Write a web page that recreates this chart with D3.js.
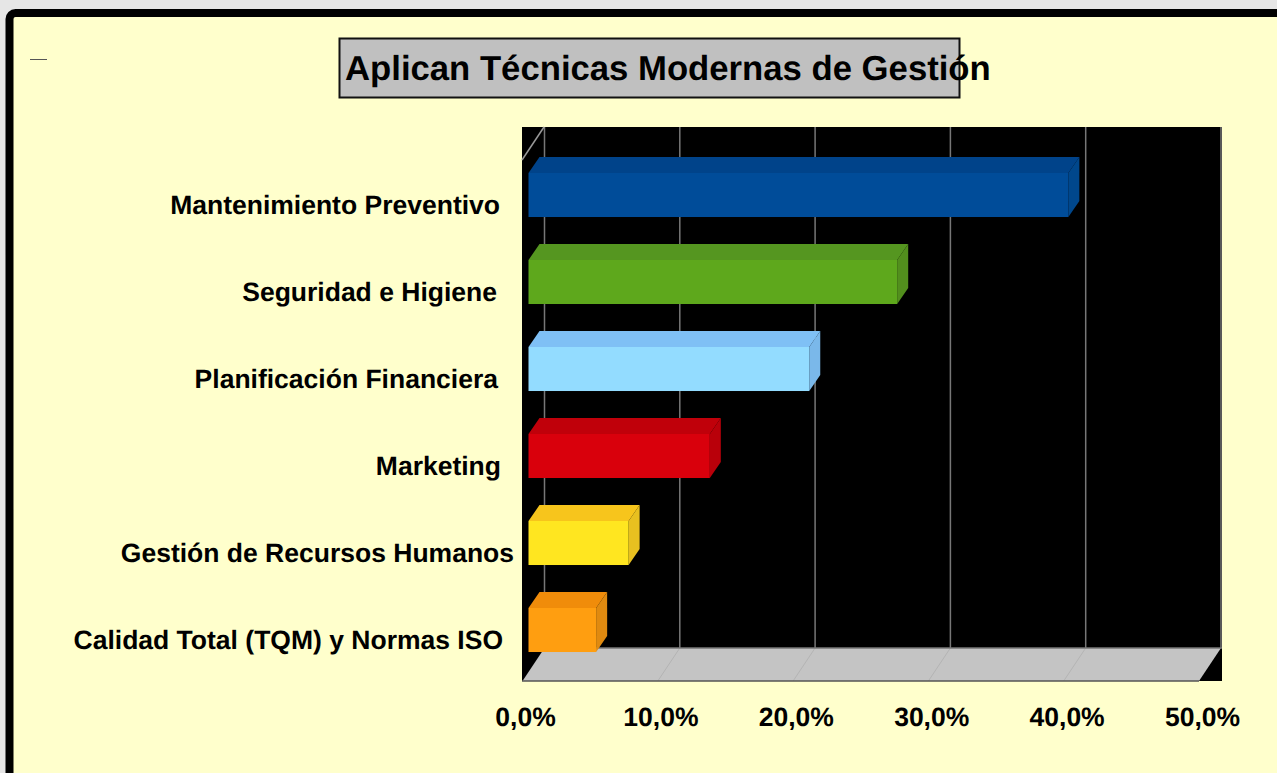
<!DOCTYPE html>
<html>
<head>
<meta charset="utf-8">
<script src="https://cdn.jsdelivr.net/npm/d3@7"></script>
<style>
html, body { margin: 0; padding: 0; background: #e6e6e6; overflow: hidden; }
text { font-family: "Liberation Sans", Arial, sans-serif; font-weight: bold; fill: #000; text-rendering: geometricPrecision; }
</style>
</head>
<body>
<svg id="chart"></svg>
<script>
const title = "Aplican Técnicas Modernas de Gestión";
const categories = ["Mantenimiento Preventivo", "Seguridad e Higiene", "Planificación Financiera", "Marketing", "Gestión de Recursos Humanos", "Calidad Total (TQM) y Normas ISO"];
const values = [39.9, 27.25, 20.75, 13.4, 7.4, 5.0];
const xTicks = [0, 10, 20, 30, 40, 50];
const frontColors = ["#004c99", "#5ea81c", "#93dcff", "#d9000c", "#ffe620", "#ff9e10"];
const topColors = ["#00438a", "#559620", "#7fc0f5", "#c0000a", "#f7c51c", "#f08c0a"];
const sideColors = ["#00478c", "#528f1d", "#7ab8ea", "#b9000a", "#e8c020", "#e08a10"];

const width = 1277, height = 773;
const plot = { left: 522, right: 1222, top: 127, bottom: 681 };
const wall = { dx: 22, dy: 33 };   // depth of the fake 3d box
const bar = { inset: 16, dx: 11, dy: 16 };
// the labels in the original are not quite aligned, they had trailing spaces
const labelEnd = [500, 497, 498, 501, 514, 503];

const svg = d3.select("#chart").attr("width", width).attr("height", height);

svg.append("rect")
    .attr("x", 9.5).attr("y", 13)
    .attr("width", width + 40).attr("height", height + 40)
    .attr("rx", 6)
    .attr("fill", "#ffffcc")
    .attr("stroke", "#000")
    .attr("stroke-width", 8);

svg.append("line")
    .attr("x1", 30).attr("x2", 47).attr("y1", 59.5).attr("y2", 59.5)
    .attr("stroke", "#555");

// title box, the text runs past the box like in the original
svg.append("rect")
    .attr("x", 339.5).attr("y", 38.5)
    .attr("width", 620).attr("height", 59)
    .attr("fill", "#c0c0c0")
    .attr("stroke", "#111")
    .attr("stroke-width", 2);
svg.append("text")
    .attr("x", 345).attr("y", 80)
    .attr("font-size", 34.7)
    .text(title);

const xBack = d3.scaleLinear().domain([0, 50]).range([plot.left + wall.dx + 0.5, plot.right - 1]);
const y = d3.scaleBand().domain(categories)
    .range([151.5, 673.5])
    .paddingInner(0.494).paddingOuter(0.247);

// back wall and floor
svg.append("rect")
    .attr("x", plot.left).attr("y", plot.top)
    .attr("width", plot.right - plot.left).attr("height", plot.bottom - plot.top)
    .attr("fill", "#000");

const floorY = plot.bottom - wall.dy;
svg.append("g").selectAll("line")
    .data(xTicks)
    .join("line")
    .attr("x1", d => xBack(d)).attr("x2", d => xBack(d))
    .attr("y1", plot.top).attr("y2", floorY)
    .attr("stroke", "#777")
    .attr("stroke-width", 1.5);

svg.append("line")
    .attr("x1", plot.left).attr("y1", plot.top + wall.dy)
    .attr("x2", plot.left + wall.dx).attr("y2", plot.top)
    .attr("stroke", "#999")
    .attr("stroke-width", 1.5);

svg.append("path")
    .attr("d", d3.line()([
        [xBack(0), floorY], [xBack(50), floorY],
        [xBack(50) - wall.dx, plot.bottom], [xBack(0) - wall.dx, plot.bottom]
    ]))
    .attr("fill", "#c4c4c4");

svg.append("g").selectAll("line")
    .data(xTicks.slice(1, -1))
    .join("line")
    .attr("x1", d => xBack(d)).attr("y1", floorY)
    .attr("x2", d => xBack(d) - wall.dx).attr("y2", plot.bottom)
    .attr("stroke", "#b4b4b4");

svg.append("line")
    .attr("x1", plot.left + wall.dx).attr("x2", plot.right).attr("y1", floorY).attr("y2", floorY)
    .attr("stroke", "#777").attr("stroke-width", 1.5);
svg.append("line")
    .attr("x1", plot.left).attr("x2", xBack(50) - wall.dx).attr("y1", plot.bottom).attr("y2", plot.bottom)
    .attr("stroke", "#555").attr("stroke-width", 1.5);

// bars, each one is three faces
const x0 = xBack(0) - bar.inset;
const bars = svg.append("g").selectAll("g")
    .data(categories.map((name, i) => ({ name, value: values[i], i })))
    .join("g");

bars.append("path")
    .attr("fill", d => topColors[d.i])
    .attr("d", d => {
        const x1 = xBack(d.value) - bar.inset, t = y(d.name);
        return d3.line()([[x0, t], [x0 + bar.dx, t - bar.dy], [x1 + bar.dx, t - bar.dy], [x1, t]]);
    });

bars.append("path")
    .attr("fill", d => sideColors[d.i])
    .attr("d", d => {
        const x1 = xBack(d.value) - bar.inset, t = y(d.name), b = t + y.bandwidth();
        return d3.line()([[x1, t], [x1 + bar.dx, t - bar.dy], [x1 + bar.dx, b - bar.dy], [x1, b]]);
    });

bars.append("rect")
    .attr("fill", d => frontColors[d.i])
    .attr("x", x0)
    .attr("y", d => y(d.name))
    .attr("width", d => xBack(d.value) - bar.inset - x0)
    .attr("height", y.bandwidth());

// axes
const xAxisScale = d3.scaleLinear().domain([0, 50]).range([525, 1202]);
const xAxis = svg.append("g")
    .attr("transform", `translate(0, ${plot.bottom})`)
    .call(d3.axisBottom(xAxisScale)
        .tickValues(xTicks)
        .tickSize(0)
        .tickPadding(26)
        .tickFormat(d => d3.format(".1f")(d).replace(".", ",") + "%"));
xAxis.select(".domain").remove();
xAxis.selectAll("text")
    .attr("font-size", 26.5)
    .attr("font-family", '"Liberation Sans", Arial, sans-serif');

const yAxis = svg.append("g")
    .call(d3.axisLeft(y).tickSize(0));
yAxis.select(".domain").remove();
yAxis.selectAll(".tick text")
    .attr("x", (d, i) => labelEnd[i])
    .attr("dy", "0.72em")
    .attr("font-size", 26.5)
    .attr("font-family", '"Liberation Sans", Arial, sans-serif');
</script>
</body>
</html>
